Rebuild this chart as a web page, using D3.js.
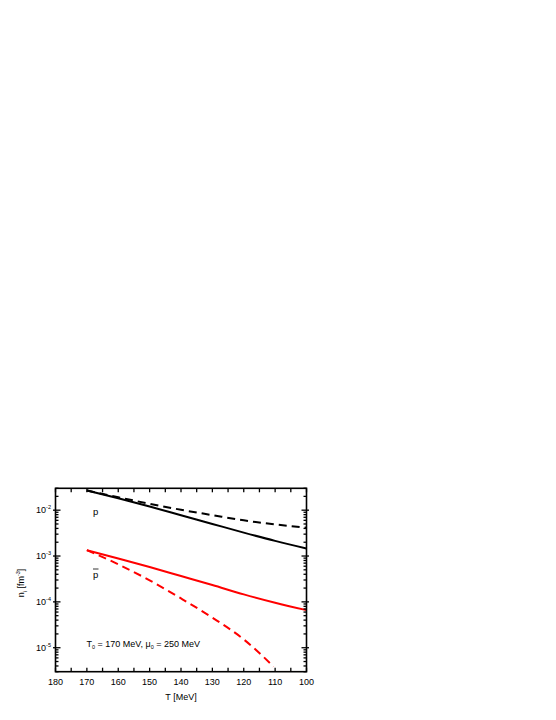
<!DOCTYPE html>
<html>
<head>
<meta charset="utf-8">
<script src="https://cdn.jsdelivr.net/npm/d3@7"></script>
<style>
  body { margin: 0; background: #fff; }
  svg { display: block; font-family: "Liberation Sans", Arial, sans-serif; }
</style>
</head>
<body>
<script>
/* ---------------------------------- data ---------------------------------- */
const temps = [170, 160, 150, 140, 130, 120, 110, 100];
const protonSolid  = [2.69e-2, 1.82e-2, 1.20e-2, 7.76e-3, 5.01e-3, 3.24e-3, 2.14e-3, 1.46e-3];
const protonDashed = [2.69e-2, 1.91e-2, 1.38e-2, 1.02e-2, 7.8e-3, 6.0e-3, 4.9e-3, 4.13e-3];
const antiSolid    = [1.34e-3, 8.85e-4, 5.75e-4, 3.66e-4, 2.33e-4, 1.46e-4, 9.6e-5, 6.6e-5];
const antiTemps    = [170, 160, 150, 140, 130, 120, 110.5];
const antiDashed   = [1.34e-3, 6.6e-4, 2.95e-4, 1.19e-4, 4.53e-5, 1.52e-5, 3.9e-6];

const xTickValues = [180, 170, 160, 150, 140, 130, 120, 110, 100];
const yDecades = [-2, -3, -4, -5];

/* ------------------------------- svg + scales ------------------------------ */
const width = 556, height = 720;
const plotL = 55.5, plotR = 306.5, plotT = 488.3, plotB = 671.7;

const svg = d3.select("body").append("svg")
    .attr("width", width)
    .attr("height", height);

const x = d3.scaleLinear().domain([180, 100]).range([plotL, plotR]);
const y = d3.scaleLog().domain([3e-6, 3e-2]).range([plotB, plotT]);

svg.append("clipPath").attr("id", "plot")
  .append("rect").attr("x", plotL).attr("y", plotT)
  .attr("width", plotR - plotL).attr("height", plotB - plotT);

/* ---------------------------------- curves --------------------------------- */
const line = d3.line()
    .x(d => x(d[0]))
    .y(d => y(d[1]))
    .curve(d3.curveMonotoneX);

const series = [
  { t: temps, v: protonDashed, color: "#000", dash: "8,5" },
  { t: temps, v: protonSolid, color: "#000", dash: null },
  { t: antiTemps, v: antiDashed, color: "#ff0000", dash: "8,5" },
  { t: temps, v: antiSolid, color: "#ff0000", dash: null }
];

const g = svg.append("g").attr("clip-path", "url(#plot)");
series.forEach(s => {
  g.append("path")
    .attr("d", line(s.t.map((t, i) => [t, s.v[i]])))
    .attr("fill", "none")
    .attr("stroke", s.color)
    .attr("stroke-width", 2)
    .attr("stroke-dasharray", s.dash);
});

/* ----------------------------------- axes ---------------------------------- */
const frame = svg.append("g").attr("stroke", "#000").attr("stroke-width", 1.3);

// x ticks every 5 MeV, bottom and top, pointing inward
d3.range(180, 99, -5).forEach(t => {
  const px = x(t);
  frame.append("line").attr("x1", px).attr("x2", px).attr("y1", plotB).attr("y2", plotB - 4);
  frame.append("line").attr("x1", px).attr("x2", px).attr("y1", plotT).attr("y2", plotT + 4);
});

// y ticks: decades crossing, minor inward
y.ticks().forEach(v => {
  const py = y(v);
  const major = Math.abs(Math.log10(v) - Math.round(Math.log10(v))) < 1e-6;
  const inLen = major ? 5 : 3;
  const outLen = major ? 2.5 : 0;
  frame.append("line").attr("x1", plotL - outLen).attr("x2", plotL + inLen).attr("y1", py).attr("y2", py);
  frame.append("line").attr("x1", plotR + outLen).attr("x2", plotR - inLen).attr("y1", py).attr("y2", py);
});

frame.append("rect")
  .attr("x", plotL).attr("y", plotT)
  .attr("width", plotR - plotL).attr("height", plotB - plotT)
  .attr("fill", "none")
  .attr("stroke-width", 1.6);

// x tick labels
svg.append("g").selectAll("text").data(xTickValues).enter().append("text")
  .attr("x", d => x(d))
  .attr("y", plotB + 13.5)
  .attr("text-anchor", "middle")
  .attr("font-size", 9)
  .text(d => d);

// y tick labels
yDecades.forEach(e => {
  const t = svg.append("text")
    .attr("x", plotL - 4.5)
    .attr("y", y(Math.pow(10, e)) + 3.3)
    .attr("text-anchor", "end")
    .attr("font-size", 9);
  t.append("tspan").text("10");
  t.append("tspan").attr("font-size", 5.5).attr("dy", -4).text("-" + Math.abs(e));
});

// axis titles
svg.append("text")
  .attr("x", (plotL + plotR) / 2)
  .attr("y", 700)
  .attr("text-anchor", "middle")
  .attr("font-size", 9)
  .text("T [MeV]");

const yl = svg.append("text")
  .attr("transform", "translate(24," + ((plotT + plotB) / 2 + 3) + ") rotate(-90)")
  .attr("text-anchor", "middle")
  .attr("font-size", 9);
yl.append("tspan").text("n");
yl.append("tspan").attr("font-size", 5.5).attr("dy", 2.5).text("i");
yl.append("tspan").attr("dy", -2.5).text(" [fm");
yl.append("tspan").attr("font-size", 5.5).attr("dy", -4).text("-3");
yl.append("tspan").attr("dy", 4).text("]");

/* -------------------------------- annotations ------------------------------ */
svg.append("text")
  .attr("x", 93).attr("y", 514.5)
  .attr("font-size", 9.5)
  .text("p");

svg.append("text")
  .attr("x", 93).attr("y", 578)
  .attr("font-size", 9.5)
  .text("p");
svg.append("line")
  .attr("x1", 93).attr("x2", 98.5)
  .attr("y1", 569).attr("y2", 569)
  .attr("stroke", "#000").attr("stroke-width", 0.8);

const note = svg.append("text")
  .attr("x", 86.5).attr("y", 646.5)
  .attr("font-size", 9);
note.append("tspan").text("T");
note.append("tspan").attr("font-size", 5.5).attr("dy", 2.5).text("0");
note.append("tspan").attr("dy", -2.5).text(" = 170 MeV, \u03bc");
note.append("tspan").attr("font-size", 5.5).attr("dy", 2.5).text("0");
note.append("tspan").attr("dy", -2.5).text(" = 250 MeV");
</script>
</body>
</html>
